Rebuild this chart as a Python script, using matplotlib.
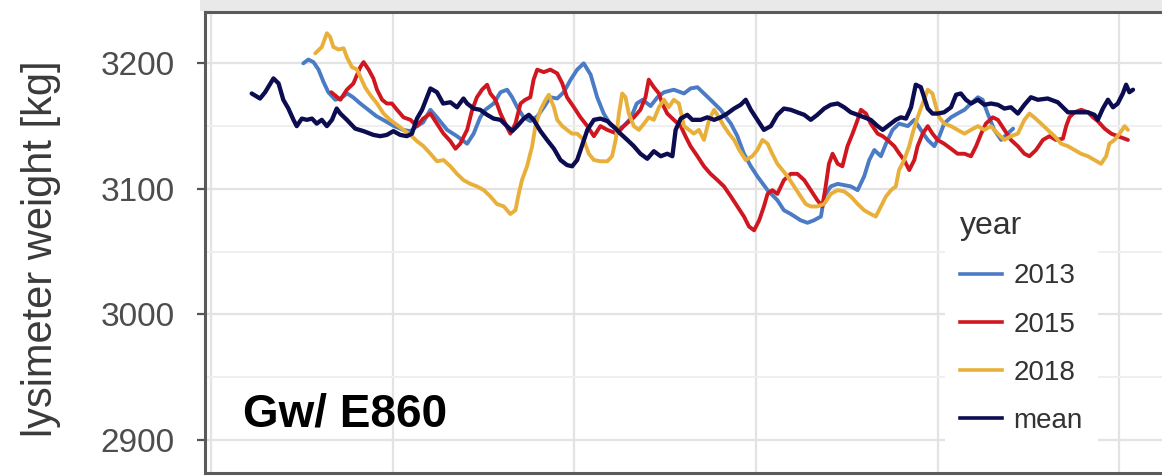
import matplotlib
matplotlib.use("Agg")
import matplotlib.pyplot as plt
from matplotlib.lines import Line2D
from matplotlib.patches import Rectangle

# ---- data: lysimeter weight [kg] against day of season ----
day_2013 = [25.4, 26.8, 28.2, 29.6, 31.0, 32.3, 34.2, 35.6, 37.5, 39.1, 41.1, 43.3, 45.5, 48.0,
            50.4, 52.9, 54.9, 56.7, 58.4, 60.4, 62.2, 65.0, 67.7, 70.5, 72.3, 74.1, 75.5, 77.8,
            79.7, 81.5, 82.9, 84.3, 86.1, 87.9, 89.9, 91.6, 93.4, 95.3, 97.1, 99.0, 100.8, 102.6,
            104.5, 106.3, 108.1, 110.0, 111.8, 113.6, 115.5, 117.2, 118.8, 121.0, 122.9, 124.7,
            127.4, 130.2, 132.0, 133.9, 135.7, 137.5, 140.3, 143.1, 144.9, 146.7, 148.6, 150.4,
            153.2, 155.9, 157.7, 159.6, 162.3, 164.2, 166.0, 167.9, 168.8, 170.6, 172.5, 174.3,
            176.1, 178.0, 179.8, 181.2, 182.6, 184.4, 185.8, 187.6, 189.4, 191.8, 193.6, 195.4,
            197.3, 199.1, 200.5, 201.8, 203.7, 205.5, 207.4, 209.2, 211.1, 212.4, 213.8, 215.6,
            217.5, 219.3, 220.8]
kg_2013 = [3200, 3203, 3201, 3195, 3185, 3177, 3171, 3172, 3176, 3173, 3168, 3163, 3158, 3154,
           3150, 3147, 3146, 3150, 3153, 3163, 3157, 3147, 3142, 3136, 3144, 3157, 3163, 3168,
           3177, 3179, 3173, 3165, 3157, 3154, 3158, 3165, 3173, 3172, 3177, 3187, 3195, 3200,
           3191, 3173, 3160, 3151, 3147, 3150, 3156, 3168, 3171, 3166, 3173, 3177,
           3179, 3176, 3180, 3181, 3176, 3171, 3163, 3152, 3142, 3128, 3118, 3110,
           3099, 3091, 3083, 3080, 3075, 3073, 3075, 3078, 3094, 3102, 3104, 3103,
           3102, 3099, 3110, 3123, 3131, 3126, 3136, 3147, 3152, 3150, 3155, 3147,
           3139, 3134, 3142, 3152, 3157, 3160, 3163, 3168, 3173, 3171, 3160, 3147,
           3139, 3144, 3148]

day_2015 = [33.1, 35.6, 37.4, 39.2, 41.1, 42.0, 43.4, 44.7, 45.7, 47.1, 48.4, 49.8, 51.2, 53.0,
            54.9, 56.7, 58.4, 60.4, 62.2, 64.0, 65.9, 67.3, 68.6, 70.5, 71.9, 73.2, 74.6, 76.0,
            76.9, 78.3, 79.7, 81.0, 82.4, 83.8, 85.2, 86.5, 87.9, 88.8, 89.8, 91.6, 93.4, 95.3,
            96.7, 98.0, 99.9, 101.7, 103.6, 105.4, 107.2, 109.1, 111.8, 113.6, 116.4, 118.2,
            119.6, 120.5, 121.9, 123.3, 124.2, 125.6, 127.4, 129.3, 130.6, 132.0, 133.9, 135.7,
            137.5, 139.4, 141.2, 143.1, 144.9, 146.7, 148.1, 149.5, 150.9, 152.2, 153.2, 154.5,
            155.9, 157.7, 159.6, 161.4, 163.3, 165.1, 166.9, 168.3, 169.2, 170.1, 171.1, 172.5,
            173.8, 175.2, 176.6, 178.0, 178.9, 180.3, 181.6, 183.5, 184.9, 186.2, 188.1, 189.5,
            190.8, 192.2, 193.6, 194.5, 195.9, 197.3, 198.6, 200.0, 201.8, 203.7, 205.5, 207.4,
            209.2, 210.6, 212.0, 213.3, 215.2, 216.6, 218.4, 220.2, 222.1, 223.9, 225.3, 227.1,
            229.0, 230.8, 232.6, 234.5, 235.4, 236.3, 237.7, 239.5, 241.4, 242.8, 244.1, 246.0,
            247.8, 249.6, 251.5, 252.4]
kg_2015 = [3177, 3171, 3179, 3184, 3197, 3201, 3195, 3188, 3179, 3171, 3168, 3168, 3163, 3157,
           3155, 3150, 3156, 3160, 3152, 3144, 3138, 3132, 3136, 3147, 3163, 3173, 3179, 3183,
           3176, 3171, 3160, 3152, 3144, 3152, 3168, 3171, 3173, 3187, 3195, 3193, 3195, 3192,
           3184, 3173, 3165, 3157, 3150, 3142, 3150, 3147, 3144, 3150, 3157, 3163,
           3173, 3187, 3181, 3176, 3168, 3160, 3155, 3150, 3142, 3134, 3126, 3118,
           3112, 3107, 3102, 3094, 3086, 3078, 3070, 3067, 3075, 3086, 3096, 3099,
           3096, 3107, 3112, 3112, 3107, 3099, 3091, 3086, 3102, 3120, 3128, 3120,
           3118, 3134, 3144, 3155, 3163, 3160, 3152, 3144, 3142, 3139, 3134, 3128,
           3123, 3115, 3123, 3134, 3144, 3150, 3144, 3139, 3136, 3132, 3128, 3128,
           3126, 3134, 3144, 3152, 3157, 3155, 3147, 3139, 3134, 3128, 3126, 3131,
           3139, 3142, 3139, 3140, 3150, 3157, 3161, 3163, 3161, 3157, 3154, 3148,
           3144, 3142, 3140, 3139]

day_2018 = [28.7, 30.5, 31.9, 32.8, 33.7, 35.1, 36.5, 37.4, 38.8, 40.2, 42.4, 43.8, 45.7, 47.5,
            49.3, 51.2, 53.0, 54.9, 56.7, 58.5, 60.4, 62.2, 64.0, 65.9, 67.7, 69.5, 71.4, 73.2,
            75.1, 76.9, 78.7, 80.6, 82.4, 83.8, 84.7, 85.6, 87.0, 88.4, 89.3, 90.7, 92.1, 93.0,
            94.4, 95.3, 96.7, 98.0, 99.4, 100.8, 102.6, 104.0, 105.4, 107.2, 109.1, 110.4, 111.4,
            112.3, 113.2, 114.1, 115.0, 116.4, 117.8, 119.2, 120.5, 121.9, 123.3, 124.7, 126.0,
            127.4, 128.8, 130.2, 131.6, 132.9, 134.3, 135.7, 137.1, 138.5, 139.8, 141.2, 142.6,
            144.0, 145.4, 147.2, 149.0, 150.4, 151.8, 153.2, 154.5, 155.9, 157.3, 158.7, 160.5,
            162.3, 163.7, 165.1, 166.9, 168.8, 170.6, 172.5, 174.3, 176.1, 178.0, 179.8, 181.6,
            183.0, 184.4, 185.8, 187.2, 188.5, 189.4, 190.8, 192.2, 193.1, 194.5, 195.9, 197.3,
            198.6, 199.6, 200.5, 201.8, 203.7, 205.5, 207.4, 209.2, 211.1, 212.9, 214.7, 216.6,
            218.4, 220.2, 222.1, 223.9, 225.3, 226.6, 228.5, 230.3, 232.2, 234.0, 235.9, 237.7,
            239.5, 241.4, 243.2, 245.0, 246.4, 247.3, 248.7, 250.1, 251.5, 252.4]
kg_2018 = [3208, 3213, 3224, 3221, 3213, 3211, 3212, 3205, 3197, 3195, 3181, 3175, 3168, 3160,
           3155, 3151, 3147, 3143, 3138, 3134, 3128, 3122, 3123, 3118, 3112, 3107, 3104, 3102,
           3099, 3094, 3088, 3086, 3080, 3083, 3096, 3107, 3118, 3134, 3150, 3163, 3171, 3175,
           3165, 3155, 3150, 3147, 3144, 3144, 3139, 3128, 3123, 3122, 3122, 3126, 3139,
           3160, 3176, 3173, 3160, 3150, 3147, 3152, 3157, 3155, 3165, 3171, 3165,
           3171, 3168, 3150, 3147, 3144, 3147, 3139, 3155, 3163, 3157, 3150, 3144,
           3139, 3131, 3123, 3126, 3131, 3139, 3136, 3128, 3120, 3115, 3110, 3102,
           3094, 3088, 3086, 3086, 3088, 3096, 3099, 3098, 3094, 3088, 3083, 3080,
           3078, 3086, 3094, 3099, 3102, 3115, 3123, 3134, 3144, 3157, 3168, 3179,
           3176, 3165, 3157, 3152, 3150, 3147, 3144, 3147, 3150, 3147, 3150, 3144,
           3139, 3142, 3144, 3155, 3160, 3157, 3152, 3147, 3142, 3136, 3134, 3131,
           3128, 3126, 3123, 3120, 3126, 3136, 3139, 3144, 3150, 3147]

day_mean = [11.2, 13.5, 14.9, 17.2, 18.6, 19.9, 21.3, 22.7, 23.6, 25.0, 26.4, 27.8, 29.1, 30.5,
            31.9, 33.3, 34.6, 35.6, 37.4, 39.7, 42.0, 44.7, 46.6, 48.4, 50.2, 52.1, 53.9, 55.3,
            56.7, 58.1, 60.4, 62.2, 63.9, 65.9, 67.7, 69.5, 70.5, 72.3, 74.1, 76.0, 77.8, 79.7,
            81.5, 82.9, 84.3, 86.1, 87.5, 88.8, 90.7, 92.5, 94.4, 96.2, 98.0, 99.4, 100.8, 102.2,
            103.6, 105.4, 107.2, 109.1, 111.4, 112.7, 114.6, 116.4, 118.2, 120.1, 121.9, 123.8,
            125.6, 127.0, 127.9, 129.3, 131.1, 132.5, 134.8, 136.6, 138.5, 140.3, 142.1, 144.0,
            145.8, 147.2, 148.6, 150.4, 152.2, 154.1, 155.9, 157.7, 159.6, 161.4, 163.3, 165.1,
            166.9, 168.8, 170.6, 172.5, 174.3, 176.1, 178.0, 179.8, 181.6, 183.5, 184.9, 186.7,
            188.5, 189.9, 191.3, 192.7, 194.0, 195.4, 196.3, 197.3, 198.6, 200.0, 201.8, 203.7,
            205.1, 206.4, 207.8, 209.2, 211.1, 212.9, 214.7, 216.6, 218.4, 220.2, 222.1, 223.9,
            225.7, 227.6, 230.3, 233.1, 234.5, 235.9, 238.6, 241.4, 243.2, 244.1, 245.5, 246.9,
            248.3, 249.6, 251.0, 251.9, 252.8, 253.8]
kg_mean = [3176, 3172, 3177, 3188, 3184, 3171, 3164, 3155, 3150, 3156, 3155, 3156, 3152, 3155,
           3150, 3155, 3164, 3160, 3155, 3148, 3146, 3143, 3142, 3143, 3146, 3143, 3142, 3144,
           3156, 3163, 3180, 3177, 3168, 3169, 3165, 3172, 3168, 3164, 3163, 3159, 3156, 3155,
           3150, 3146, 3150, 3156, 3159, 3155, 3146, 3139, 3132, 3123, 3119, 3118, 3123, 3135,
           3147, 3155, 3156, 3154, 3148, 3144, 3139, 3134, 3128, 3124, 3130, 3126,
           3128, 3126, 3147, 3156, 3159, 3155, 3155, 3157, 3155, 3157, 3160, 3164,
           3167, 3171, 3163, 3155, 3147, 3150, 3159, 3164, 3163, 3161, 3159, 3155,
           3159, 3164, 3167, 3168, 3165, 3161, 3159, 3157, 3155, 3150, 3147, 3151,
           3155, 3157, 3156, 3165, 3183, 3181, 3173, 3164, 3160, 3160, 3161, 3165,
           3175, 3176, 3171, 3168, 3171, 3167, 3168, 3167, 3164, 3165, 3160, 3167,
           3173, 3171, 3172, 3169, 3165, 3161, 3161, 3161, 3159, 3155, 3164, 3171,
           3165, 3168, 3176, 3183, 3177, 3179]

series = [
    ("2013", day_2013, kg_2013, "#4a7bc4", 2.8),
    ("2015", day_2015, kg_2015, "#d0161e", 2.8),
    ("2018", day_2018, kg_2018, "#e8b03a", 2.8),
    ("mean", day_mean, kg_mean, "#0c0c50", 3.1),
]

y_ticks = [2900, 3000, 3100, 3200]
y_minor = [2950, 3050, 3150]
x_grid = [0, 50, 100, 150, 200, 250]

plt.rcParams["font.family"] = ["Liberation Sans", "DejaVu Sans"]

W, H = 1162, 476
fig = plt.figure(figsize=(W / 100, H / 100), dpi=100)
fig.patch.set_facecolor("white")

# light band above the panel frame
fig.add_artist(Rectangle((200 / W, 1 - 11 / H), 1, 11 / H, transform=fig.transFigure,
                         facecolor="#e9e9e9", edgecolor="none", zorder=0))

ax = fig.add_axes([205 / W, 1 - 473 / H, 1 - 205 / W + 0.001, (473 - 12) / H])
ax.set_facecolor("white")

for name, d, v, c, lw in series:
    ax.plot(d, v, color=c, lw=lw, solid_joinstyle="round", solid_capstyle="round",
            label=name, zorder=3)

ax.set_ylim(2873.7, 3240.9)
ax.set_xlim(-1.65, 262.1)

ax.set_yticks(y_ticks)
ax.set_yticks(y_minor, minor=True)
ax.set_xticks(x_grid)
ax.tick_params(axis="x", length=0, labelbottom=False)
ax.tick_params(axis="y", which="major", length=6, width=1.6, color="#555555",
               labelsize=24, labelcolor="#4d4d4d", pad=16)
ax.tick_params(axis="y", which="minor", length=0)

ax.grid(True, which="major", color="#e3e3e3", lw=1.6, zorder=0)
ax.grid(True, which="minor", axis="y", color="#efefef", lw=1.4, zorder=0)
ax.set_axisbelow(True)

for side in ("left", "top", "bottom"):
    ax.spines[side].set_color("#5a5a5a")
    ax.spines[side].set_linewidth(2.2)
ax.spines["right"].set_visible(False)

ax.set_ylabel("lysimeter weight [kg]", fontsize=30, color="#3a3a3a")
ax.yaxis.label.set_va("center")
ax.yaxis.set_label_coords(-0.1714, 0.487)

ax.text(0.0397, 0.0998, "Gw/ E860", transform=ax.transAxes, fontsize=33,
        fontweight="bold", color="black", ha="left", va="baseline", zorder=5)

handles = [Line2D([], [], color=c, lw=2.6) for _, _, _, c, _ in series]
labels = [s[0] for s in series]
leg = ax.legend(handles, labels, title="year", loc="upper left",
                bbox_to_anchor=(931 / W, 1 - 182 / H), bbox_transform=fig.transFigure,
                fontsize=20, title_fontsize=23, frameon=True, fancybox=False,
                handlelength=1.5, handletextpad=0.42, labelspacing=0.8,
                borderpad=0.55, alignment="left")
leg.get_frame().set_facecolor("white")
leg.get_frame().set_edgecolor("none")
leg.get_frame().set_alpha(1.0)
for t in leg.get_texts():
    t.set_color("#333333")
leg.get_title().set_color("#333333")

fig.savefig("out.png", dpi=100)
